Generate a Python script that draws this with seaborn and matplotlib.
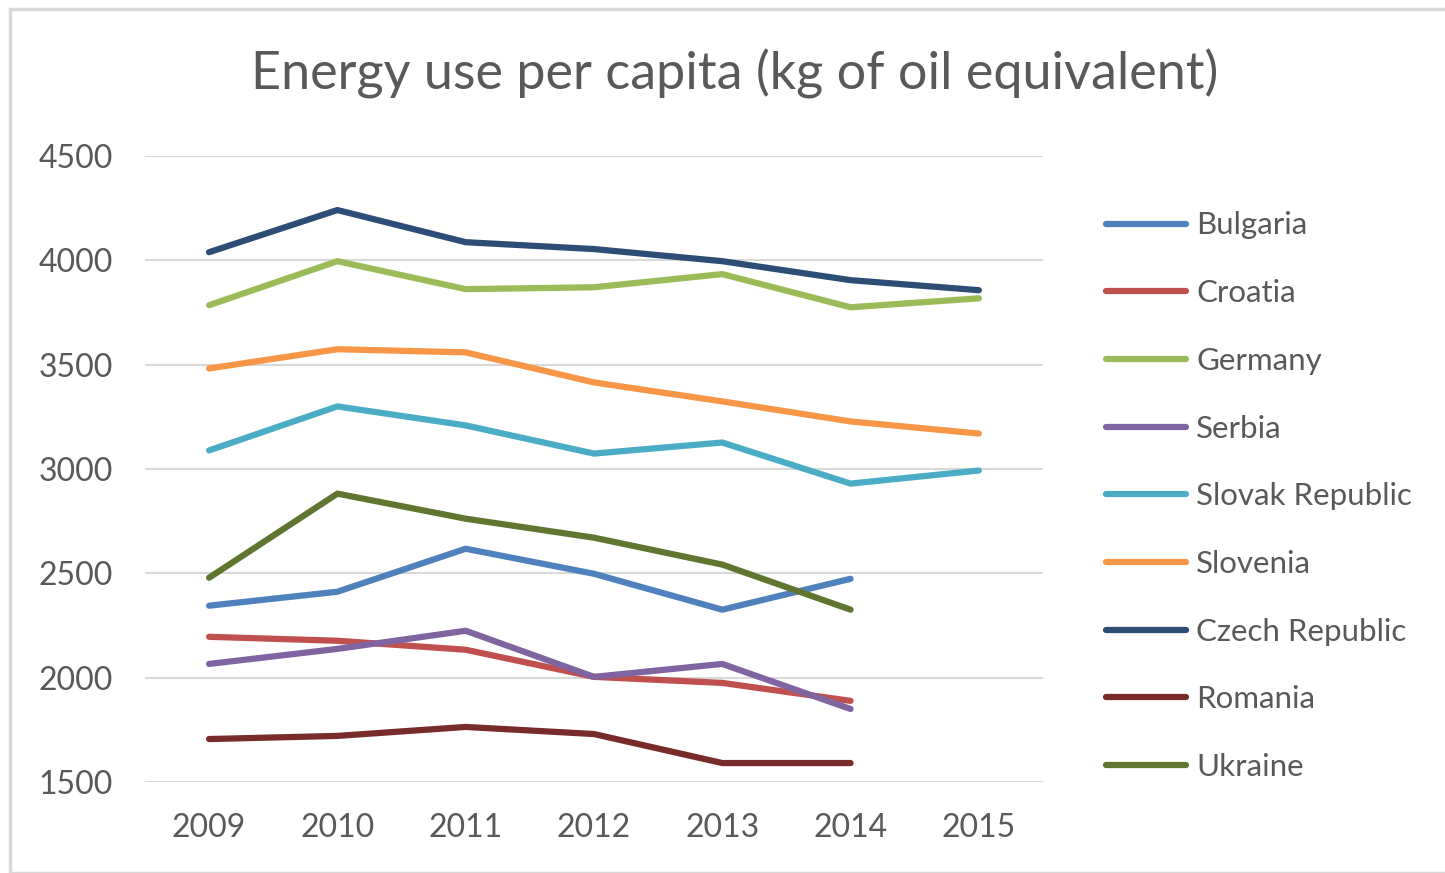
import pandas as pd
import seaborn as sns
import matplotlib.pyplot as plt
from matplotlib.patches import Rectangle
from matplotlib.lines import Line2D

years = [2009, 2010, 2011, 2012, 2013, 2014, 2015]

bulgaria = [2345, 2412, 2618, 2498, 2326, 2474]
croatia = [2196, 2177, 2134, 2004, 1975, 1889]
germany = [3785, 3996, 3862, 3871, 3934, 3775, 3818]
serbia = [2066, 2138, 2225, 2004, 2066, 1850]
slovak = [3089, 3300, 3209, 3074, 3127, 2930, 2993]
slovenia = [3482, 3574, 3559, 3415, 3324, 3228, 3170]
czech = [4039, 4241, 4087, 4054, 3996, 3905, 3857]
romania = [1706, 1721, 1764, 1730, 1591, 1591]
ukraine = [2479, 2882, 2762, 2671, 2542, 2326]

countries = ['Bulgaria', 'Croatia', 'Germany', 'Serbia', 'Slovak Republic',
             'Slovenia', 'Czech Republic', 'Romania', 'Ukraine']
series = [bulgaria, croatia, germany, serbia, slovak, slovenia, czech, romania, ukraine]
colors = ['#4F81BD', '#C0504D', '#9BBB59', '#8064A2', '#4BACC6',
          '#F79646', '#2C4D75', '#772C2A', '#5F7530']

rows = []
for name, vals in zip(countries, series):
    for y, v in zip(years, vals):
        rows.append({'Year': y, 'Country': name, 'Value': v})
df = pd.DataFrame(rows)

sns.set_style('white')
plt.rcParams['font.family'] = ['Lato', 'DejaVu Sans']
text_color = '#595959'

fig = plt.figure(figsize=(14.45, 8.73), dpi=100)
ax = fig.add_axes([0.1003, 0.1042, 0.6215, 0.7171])

sns.lineplot(data=df, x='Year', y='Value', hue='Country', hue_order=countries,
             palette=colors, linewidth=4.5, ax=ax, legend=False)

ax.set_xlim(2008.5, 2015.5)
ax.set_ylim(1500, 4500)
ax.set_xticks(years)
ax.set_yticks([1500, 2000, 2500, 3000, 3500, 4000, 4500])
ax.grid(axis='y', color='#D9D9D9', linewidth=1.5)
ax.set_axisbelow(True)
for s in ax.spines.values():
    s.set_visible(False)
ax.tick_params(axis='both', length=0, labelsize=23, labelcolor=text_color)
ax.tick_params(axis='x', pad=22)
ax.tick_params(axis='y', pad=23)
ax.set_xlabel('')
ax.set_ylabel('')

fig.text(0.5083, 0.915, 'Energy use per capita (kg of oil equivalent)',
         ha='center', va='center', fontsize=37.5, color=text_color)

handles = [Line2D([0], [0], color=c, lw=4.5) for c in colors]
fig.legend(handles, countries, loc='upper left', bbox_to_anchor=(0.746, 0.79),
           frameon=False, fontsize=22.5, labelcolor=text_color, handlelength=2.55,
           handletextpad=0.33, labelspacing=1.27)

fig.patches.append(Rectangle((10 / 1445, 0), 1.2, 1 - 9 / 873, transform=fig.transFigure,
                             fill=False, edgecolor='#D9D9D9', linewidth=2.5))

fig.savefig('out.png', dpi=100)
